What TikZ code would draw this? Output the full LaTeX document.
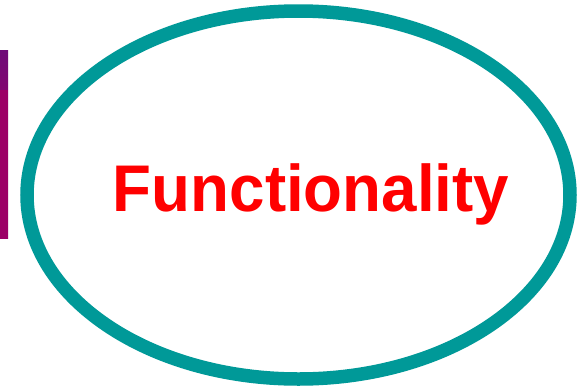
\documentclass[tikz,border=0pt]{standalone}
\usepackage{fontspec}
\setmainfont{Liberation Sans}
\definecolor{tealring}{RGB}{0,153,152}
\definecolor{barpurple}{RGB}{156,0,102}
\definecolor{bardark}{RGB}{110,10,120}
\definecolor{textred}{RGB}{255,0,0}
\tikzset{ring/.style={draw=tealring, line width=13.5pt},
  label/.style={text=textred, font=\fontsize{66}{66}\selectfont\bfseries, inner sep=0pt}}
\begin{document}
\begin{tikzpicture}[x=1pt,y=-1pt]
\useasboundingbox (0,0) rectangle (584,386);
\fill[white] (0,0) rectangle (584,386);
\shade[top color=bardark, bottom color=barpurple, middle color=barpurple] (0,50) rectangle (8,238);
\fill[barpurple] (0,90) rectangle (8,238);
\draw[ring] (298.5,195) ellipse [x radius=271.5, y radius=184];
\node[label, anchor=base, xscale=0.965] (t) at (311,211.7) {Functionality};
\end{tikzpicture}
\end{document}
